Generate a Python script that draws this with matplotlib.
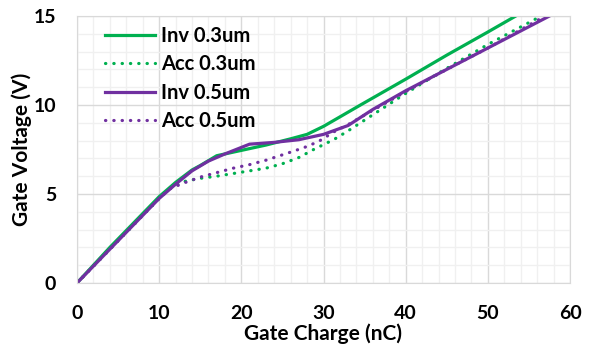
import numpy as np
import matplotlib
matplotlib.use("Agg")
import matplotlib.pyplot as plt
from matplotlib.ticker import MultipleLocator

# gate charge curves (x: nC, y: V)
inv03_q = [0, 2, 4, 6, 8, 10, 12, 14, 15, 17, 20, 23, 26, 28, 30, 34.5, 40, 45, 50, 53.4]
inv03_v = [0, 1.0, 2.0, 2.95, 3.9, 4.85, 5.65, 6.35, 6.6, 7.15, 7.45, 7.75, 8.1, 8.35, 8.8, 10.0, 11.45, 12.8, 14.1, 15.0]

acc03_q = [0, 2, 4, 6, 8, 10, 11, 12, 13, 15, 17, 19, 21, 23, 25, 27, 28.8, 31.3, 33, 36, 40, 44.3, 50, 56.5]
acc03_v = [0, 0.95, 1.9, 2.85, 3.8, 4.75, 5.2, 5.5, 5.7, 5.88, 6.0, 6.15, 6.3, 6.45, 6.7, 7.05, 7.5, 8.07, 8.55, 9.45, 10.65, 11.87, 13.4, 15.0]

inv05_q = [0, 2, 4, 6, 8, 10, 12, 14, 16, 18, 21, 24, 27, 30, 33, 36, 40, 45, 50, 57.5]
inv05_v = [0, 0.95, 1.9, 2.85, 3.8, 4.75, 5.55, 6.3, 6.85, 7.25, 7.8, 7.9, 8.05, 8.35, 8.85, 9.75, 10.8, 12.0, 13.2, 15.0]

acc05_q = [0, 2, 4, 6, 8, 10, 11.3, 13.2, 15, 17, 19, 21, 23, 25, 27.6, 29.4, 31.3, 33, 36, 40, 45, 50, 57]
acc05_v = [0, 0.95, 1.9, 2.85, 3.8, 4.75, 5.3, 5.65, 5.95, 6.2, 6.45, 6.65, 6.9, 7.2, 7.6, 7.95, 8.5, 8.9, 9.7, 10.75, 12.0, 13.2, 15.0]

GREEN = "#00B050"
PURPLE = "#7030A0"

plt.rcParams['font.family'] = ['Lato', 'DejaVu Sans']
plt.rcParams['font.weight'] = 'bold'

fig = plt.figure(figsize=(5.93, 3.49), dpi=100)
ax = fig.add_axes([77/593, 1-283/349, (570-77)/593, (283-16)/349])

lw = 2.3
dots = (0, (0.1, 2.5))
ax.plot(inv03_q, inv03_v, color=GREEN, lw=lw, label="Inv 0.3um")
ax.plot(acc03_q, acc03_v, color=GREEN, lw=lw, ls=dots,
        dash_capstyle='round', label="Acc 0.3um")
ax.plot(inv05_q, inv05_v, color=PURPLE, lw=lw, label="Inv 0.5um")
ax.plot(acc05_q, acc05_v, color=PURPLE, lw=lw, ls=dots,
        dash_capstyle='round', label="Acc 0.5um")

ax.set_xlim(0, 60)
ax.set_ylim(0, 15)
ax.xaxis.set_major_locator(MultipleLocator(10))
ax.xaxis.set_minor_locator(MultipleLocator(2))
ax.yaxis.set_major_locator(MultipleLocator(5))
ax.yaxis.set_minor_locator(MultipleLocator(1))
ax.grid(which='major', color='#d9d9d9', lw=1.0)
ax.grid(which='minor', color='#f0f0f0', lw=1.0)
ax.set_axisbelow(True)
for s in ax.spines.values():
    s.set_color('#d9d9d9')
ax.tick_params(which='both', length=0, labelsize=14)
ax.tick_params(axis='x', pad=16)
ax.tick_params(axis='y', pad=15)

ax.set_xlabel("Gate Charge (nC)", fontsize=15, fontweight='bold', labelpad=1)
ax.set_ylabel("Gate Voltage (V)", fontsize=15, fontweight='bold', labelpad=1)

ax.legend(loc='upper left', frameon=False, fontsize=14.5, handlelength=2.5,
          handletextpad=0.3, labelspacing=0.42, borderaxespad=0.3,
          bbox_to_anchor=(0.028, 1.016))

fig.savefig("out.png", dpi=100)
